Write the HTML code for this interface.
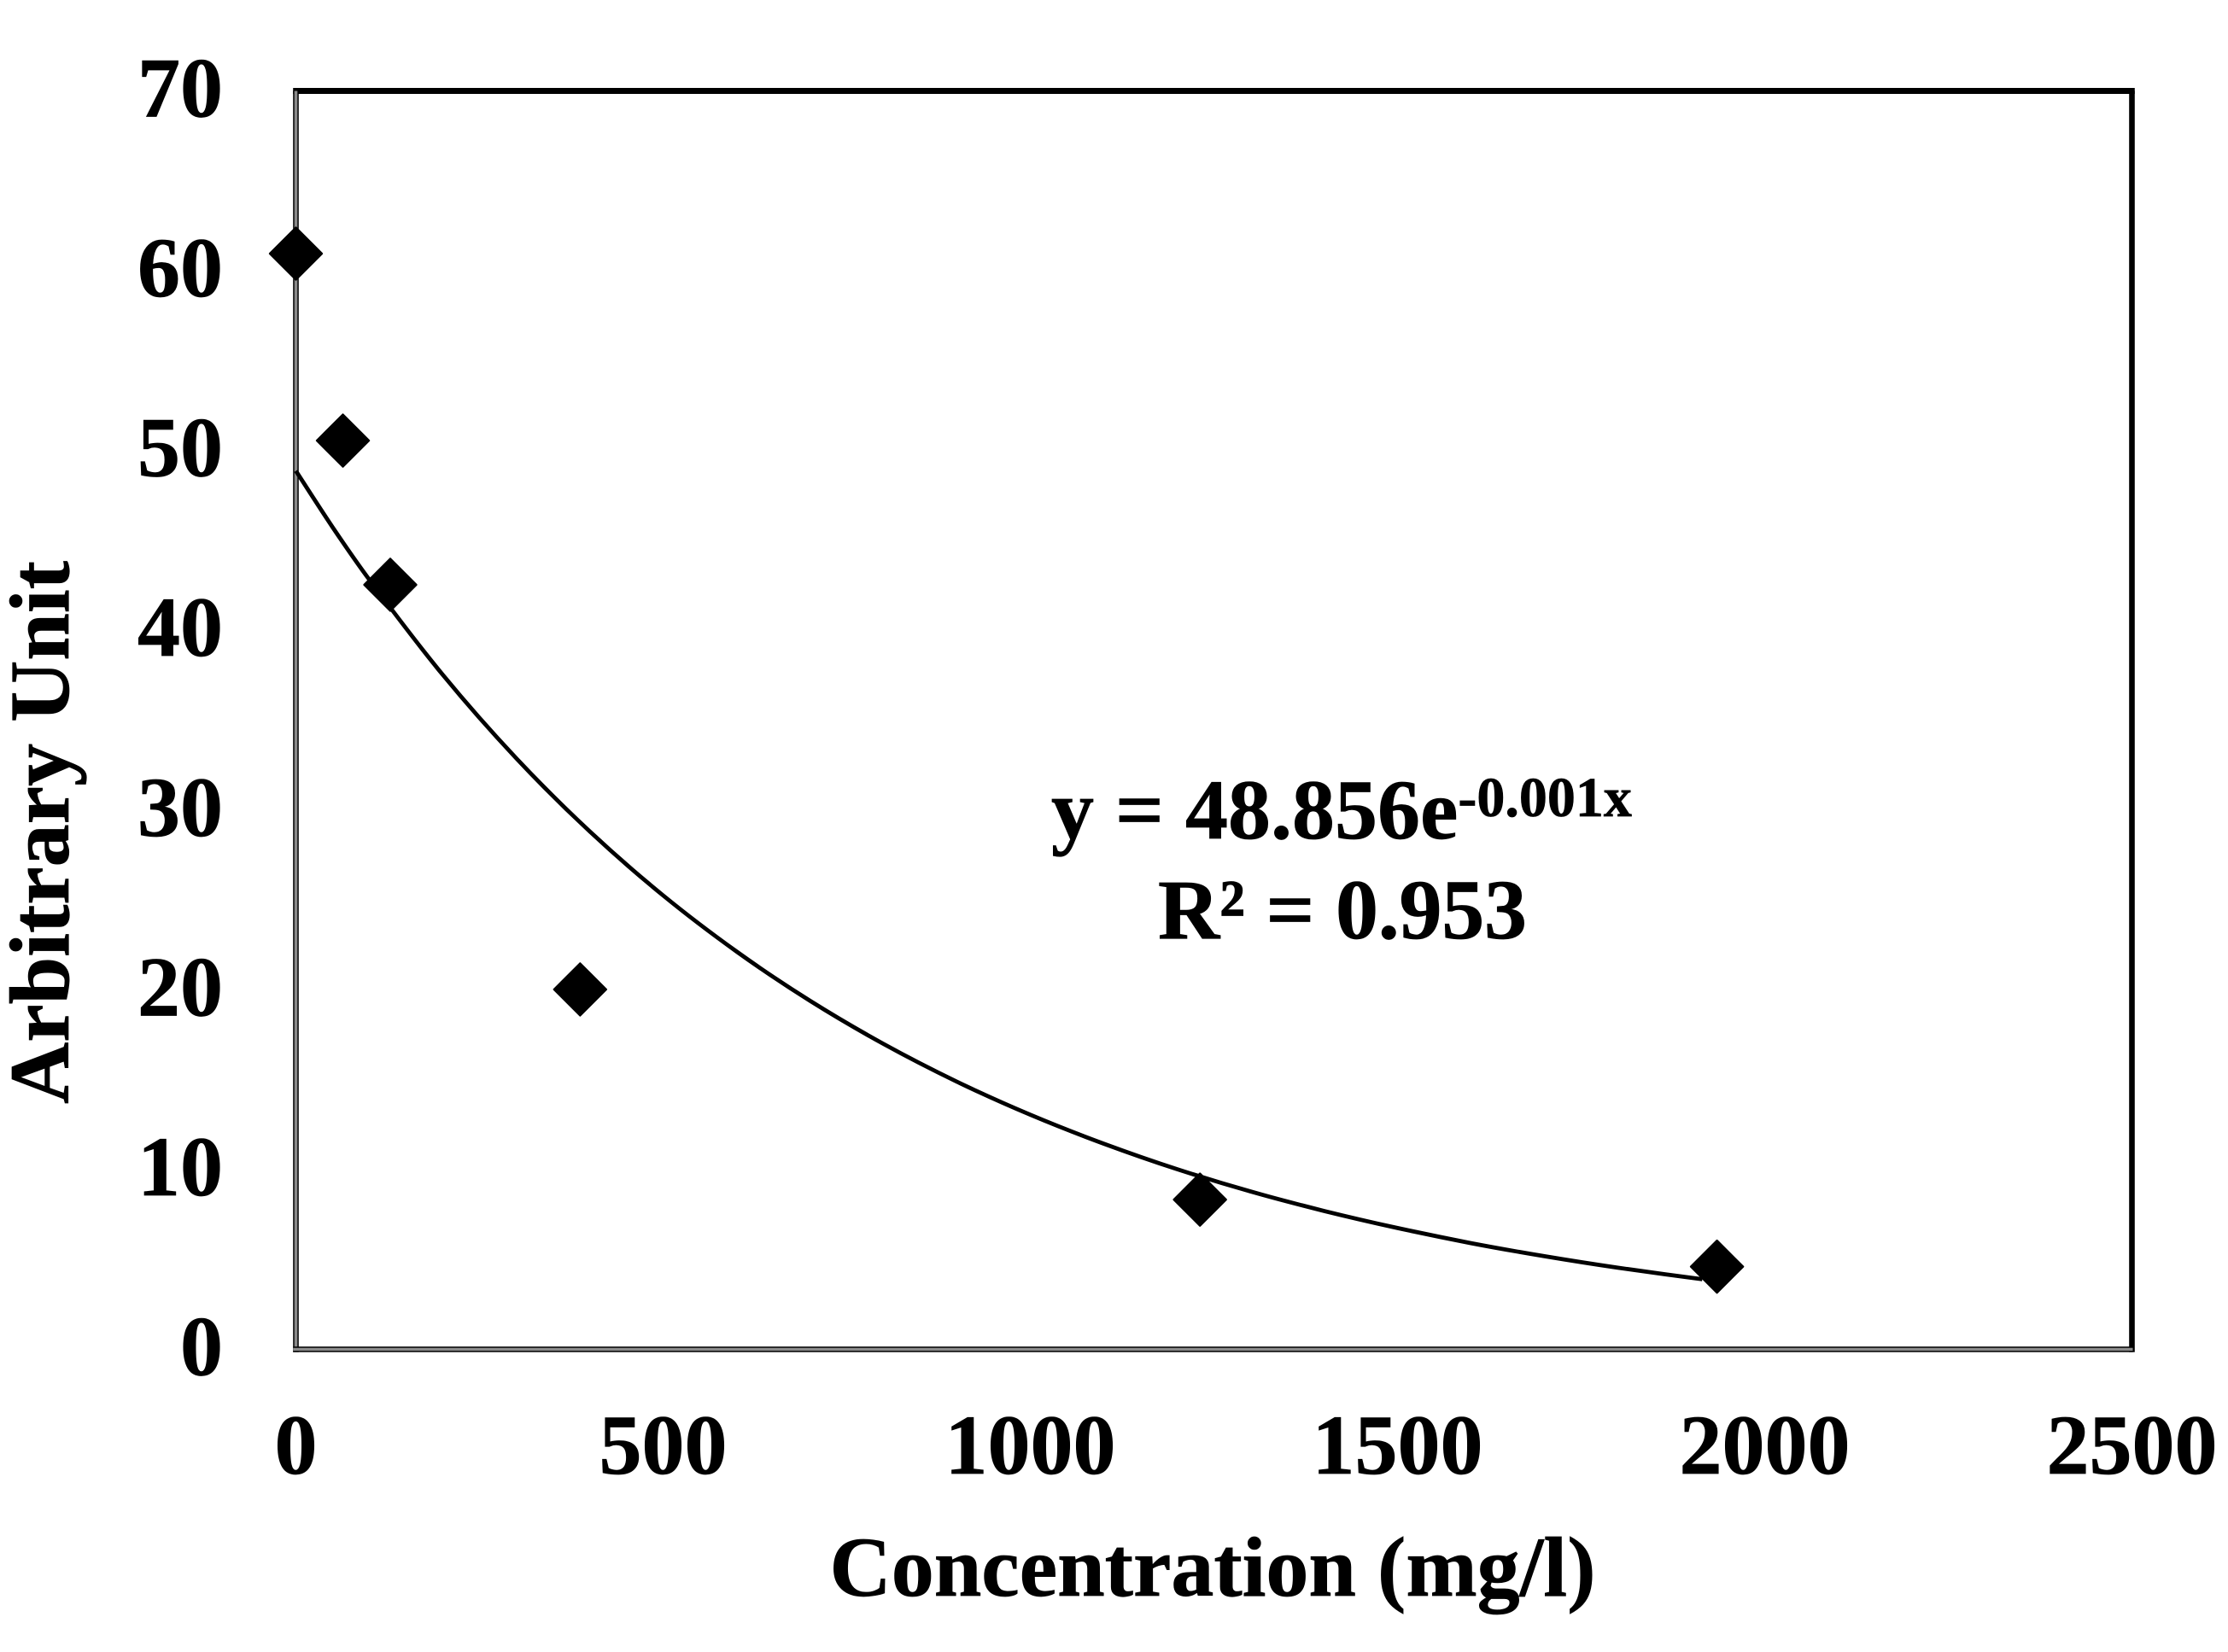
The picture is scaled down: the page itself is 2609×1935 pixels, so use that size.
<!DOCTYPE html>
<html lang="en">
<head>
<meta charset="utf-8">
<title>Arbitrary Unit vs Concentration</title>
<style>
  html, body { margin: 0; padding: 0; background: #fff; }
  #chart { display: block; width: 2609px; height: 1935px; }
  text { font-family: "Liberation Serif", serif; font-weight: 700; fill: #000; stroke: #000; stroke-width: 0.7px; }
</style>
</head>
<body>
<svg id="chart" xmlns="http://www.w3.org/2000/svg" width="2609" height="1935" viewBox="0 0 2609 1935">
  <rect x="0" y="0" width="2609" height="1935" fill="#fff"/>
  <g id="frame"></g>
  <g id="trend-layer"></g>
  <g id="marker-layer"></g>
  <g id="y-ticks"></g>
  <g id="x-ticks"></g>
  <text font-size="100" text-anchor="middle" transform="translate(80 975) rotate(-90)">Arbitrary Unit</text>
  <text font-size="100" text-anchor="middle" x="1420" y="1869" textLength="897">Concentration (mg/l)</text>
  <text x="1231" y="982" font-size="100">y = 48.856e<tspan font-size="66" dy="-26">-0.001x</tspan></text>
  <text x="1356" y="1099" font-size="100" textLength="432">R² = 0.953</text>
</svg>
<script>
const xTicks = [0, 500, 1000, 1500, 2000, 2500];
const yTicks = [0, 10, 20, 30, 40, 50, 60, 70];
const pointX = [0, 64, 128.5, 387, 1231, 1935];
const pointY = [60.95, 50.55, 42.53, 20.02, 8.33, 4.6];
const trendX = [0, 50, 100, 200, 300, 400, 500, 600, 700, 800, 900, 1000, 1100, 1200, 1300, 1400, 1500, 1600, 1700, 1800, 1915];
const trendY = [48.86, 45.73, 42.81, 37.52, 32.88, 28.81, 25.25, 22.13, 19.39, 16.99, 14.89, 13.05, 11.44, 10.02, 8.78, 7.70, 6.75, 5.91, 5.18, 4.54, 3.9];

const NS = 'http://www.w3.org/2000/svg';
const plot = { left: 346.5, right: 2496.5, top: 106.5, bottom: 1580.5 };
const xMax = xTicks[xTicks.length - 1];
const yMax = yTicks[yTicks.length - 1];
const xScale = function (v) { return plot.left + (v / xMax) * (plot.right - plot.left); };
const yScale = function (v) { return plot.bottom - (v / yMax) * (plot.bottom - plot.top); };

function make(tag, attrs) {
  const el = document.createElementNS(NS, tag);
  Object.keys(attrs).forEach(function (k) { el.setAttribute(k, attrs[k]); });
  return el;
}

const frame = document.getElementById('frame');

function greyEdge(x1, y1, x2, y2) {
  const outer = make('line', { x1: x1, y1: y1, x2: x2, y2: y2, stroke: '#000', 'stroke-width': 6.6 });
  
  
  frame.appendChild(outer);
  const inner = make('line', { x1: x1, y1: y1, x2: x2, y2: y2, stroke: '#8a8a8a', 'stroke-width': 3.6 });
  
  
  frame.appendChild(inner);
}

const topBorder = make('line', { x1: plot.left - 3.3, y1: plot.top, x2: plot.right + 3.3, y2: plot.top, stroke: '#000', 'stroke-width': 7 });


frame.appendChild(topBorder);

const rightBorder = make('line', { x1: plot.right, y1: plot.top, x2: plot.right, y2: plot.bottom + 3.3, stroke: '#000', 'stroke-width': 6.6 });


frame.appendChild(rightBorder);

greyEdge(plot.left, plot.top, plot.left, plot.bottom + 3.3);
greyEdge(plot.left - 3.3, plot.bottom, plot.right + 1, plot.bottom);

// Smooth curve through the trend values (Catmull-Rom converted to cubic Beziers).
const tp = trendX.map(function (x, i) { return [xScale(x), yScale(trendY[i])]; });
let trendPath = 'M' + tp[0][0].toFixed(1) + ' ' + tp[0][1].toFixed(1);
for (let i = 0; i < tp.length - 1; i++) {
  const p0 = tp[Math.max(i - 1, 0)], p1 = tp[i], p2 = tp[i + 1], p3 = tp[Math.min(i + 2, tp.length - 1)];
  const h = p2[0] - p1[0];
  const m1 = (p2[1] - p0[1]) / ((p2[0] - p0[0]) || 1);
  const m2 = (p3[1] - p1[1]) / ((p3[0] - p1[0]) || 1);
  trendPath += ' C' + (p1[0] + h / 3).toFixed(1) + ' ' + (p1[1] + m1 * h / 3).toFixed(1) + ' ' +
    (p2[0] - h / 3).toFixed(1) + ' ' + (p2[1] - m2 * h / 3).toFixed(1) + ' ' +
    p2[0].toFixed(1) + ' ' + p2[1].toFixed(1);
}
const trend = make('path', { d: trendPath, fill: 'none', stroke: '#000', 'stroke-width': 4.8, 'stroke-linejoin': 'round' });


document.getElementById('trend-layer').appendChild(trend);

const markerLayer = document.getElementById('marker-layer');
pointX.forEach(function (x, i) {
  const cx = xScale(x), cy = yScale(pointY[i]), r = 30.5;
  const marker = make('polygon', {
    points: cx + ',' + (cy - r) + ' ' + (cx + r) + ',' + cy + ' ' + cx + ',' + (cy + r) + ' ' + (cx - r) + ',' + cy,
    fill: '#000', stroke: '#000', 'stroke-width': 2.4, 'stroke-linejoin': 'round'
  });
  
  
  markerLayer.appendChild(marker);
});

const yTickGroup = document.getElementById('y-ticks');
yTicks.forEach(function (v) {
  const label = make('text', { x: 261, y: yScale(v) + 30, 'font-size': 100, 'text-anchor': 'end' });
  
  
  label.textContent = v;
  yTickGroup.appendChild(label);
});

const xTickGroup = document.getElementById('x-ticks');
xTicks.forEach(function (v) {
  const label = make('text', { x: xScale(v), y: 1726, 'font-size': 100, 'text-anchor': 'middle' });
  
  
  label.textContent = v;
  xTickGroup.appendChild(label);
});
</script>
</body>
</html>
